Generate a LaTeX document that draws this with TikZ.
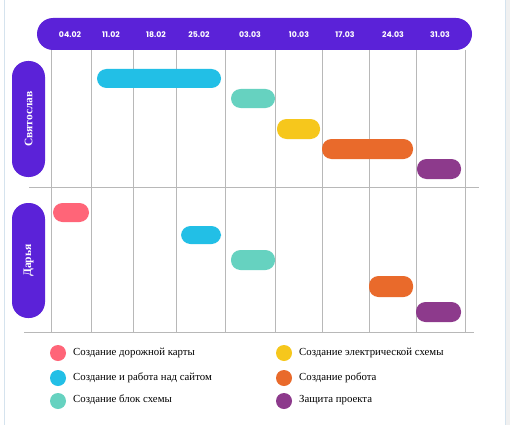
\documentclass[tikz,border=0pt]{standalone}
\usepackage{fontspec}
\setmainfont{Liberation Serif}
\newfontfamily\hdrfont{Poppins}
\begin{document}
\begin{tikzpicture}[x=1pt,y=-1pt,
  hdr/.style={font=\hdrfont\bfseries\fontsize{7.8}{9}\selectfont, text=white},
  grid/.style={draw=black!28, line width=0.7pt},
  bar/.style={rounded corners=9.5pt, draw=none},
  person/.style={fill=purp, rounded corners=16pt},
  lgdot/.style={circle, minimum size=16pt, inner sep=0pt},
  lgtext/.style={anchor=west, font=\fontsize{10.8}{12}\selectfont, inner sep=0pt}
]
\definecolor{purp}{HTML}{5B22D8}
\definecolor{cpink}{HTML}{FF6578}
\definecolor{ccyan}{HTML}{22BFE6}
\definecolor{cteal}{HTML}{66D2C0}
\definecolor{cyellow}{HTML}{F6C71C}
\definecolor{corange}{HTML}{E96A2B}
\definecolor{cviolet}{HTML}{8D3A8C}
\definecolor{frame}{HTML}{D5E3EE}
\useasboundingbox (0,0) rectangle (510,425);
\fill[white] (0,0) rectangle (510,425);
% frame edges
\draw[frame, line width=1pt] (4,0) -- (4,425);
\draw[frame, line width=1pt] (505,0) -- (505,425);
\fill[black!6] (505.5,0) rectangle (510,425);
% grid
\foreach \x in {51.5,91,133,176,225.5,275.5,322,369,416,465}
  \draw[grid] (\x,50) -- (\x,332);
\draw[grid] (29,187) -- (479,187);
\draw[grid] (24,332) -- (474,332);
% header
\node[fill=purp, rounded corners=16pt, minimum width=435pt, minimum height=32pt, inner sep=0pt] (header) at (254.5,34) {};
\foreach \x/\t in {70/04.02,111/11.02,156/18.02,199/25.02,250/03.03,299/10.03,345/17.03,393/24.03,440/31.03}
  \node[hdr] (d\t) at (\x,35) {\t};
% persons
\node[person, minimum width=33pt, minimum height=116pt, inner sep=0pt] (p1) at (28.5,119) {};
\node[rotate=90, text=white, font=\bfseries\fontsize{11.5}{13}\selectfont] (p1t) at (p1.center) {Святослав};
\node[person, minimum width=33pt, minimum height=115pt, inner sep=0pt] (p2) at (28.5,260.5) {};
\node[rotate=90, text=white, font=\bfseries\fontsize{11.5}{13}\selectfont] (p2t) at (p2.center) {Дарья};
% bars Svyatoslav
\fill[bar, ccyan] (97,69) rectangle (221,88);
\fill[bar, cteal] (231,89) rectangle (275,108);
\fill[bar, cyellow] (277,119) rectangle (320,139);
\fill[bar, corange] (322,139) rectangle (413,159);
\fill[bar, cviolet] (417,159) rectangle (461,179);
% bars Darya
\fill[bar, cpink] (53,203) rectangle (89,222);
\fill[bar, ccyan] (181,226) rectangle (221,244);
\fill[bar, cteal] (231,250) rectangle (275,270);
\fill[bar, corange] (369,276) rectangle (413,297);
\fill[bar, cviolet] (416,302) rectangle (461,322);
% legend
\node[lgdot, fill=cpink] (l1) at (58,353) {};
\node[lgtext] (l1t) at (73,353) {Создание дорожной карты};
\node[lgdot, fill=ccyan] (l2) at (58,378) {};
\node[lgtext] (l2t) at (73,378) {Создание и работа над сайтом};
\node[lgdot, fill=cteal] (l3) at (58,401) {};
\node[lgtext] (l3t) at (73,400) {Создание блок схемы};
\node[lgdot, fill=cyellow] (l4) at (284,353) {};
\node[lgtext] (l4t) at (299,353) {Создание электрической схемы};
\node[lgdot, fill=corange] (l5) at (284,378) {};
\node[lgtext] (l5t) at (299,378) {Создание робота};
\node[lgdot, fill=cviolet] (l6) at (284,401) {};
\node[lgtext] (l6t) at (299,400) {Защита проекта};
\end{tikzpicture}
\end{document}
